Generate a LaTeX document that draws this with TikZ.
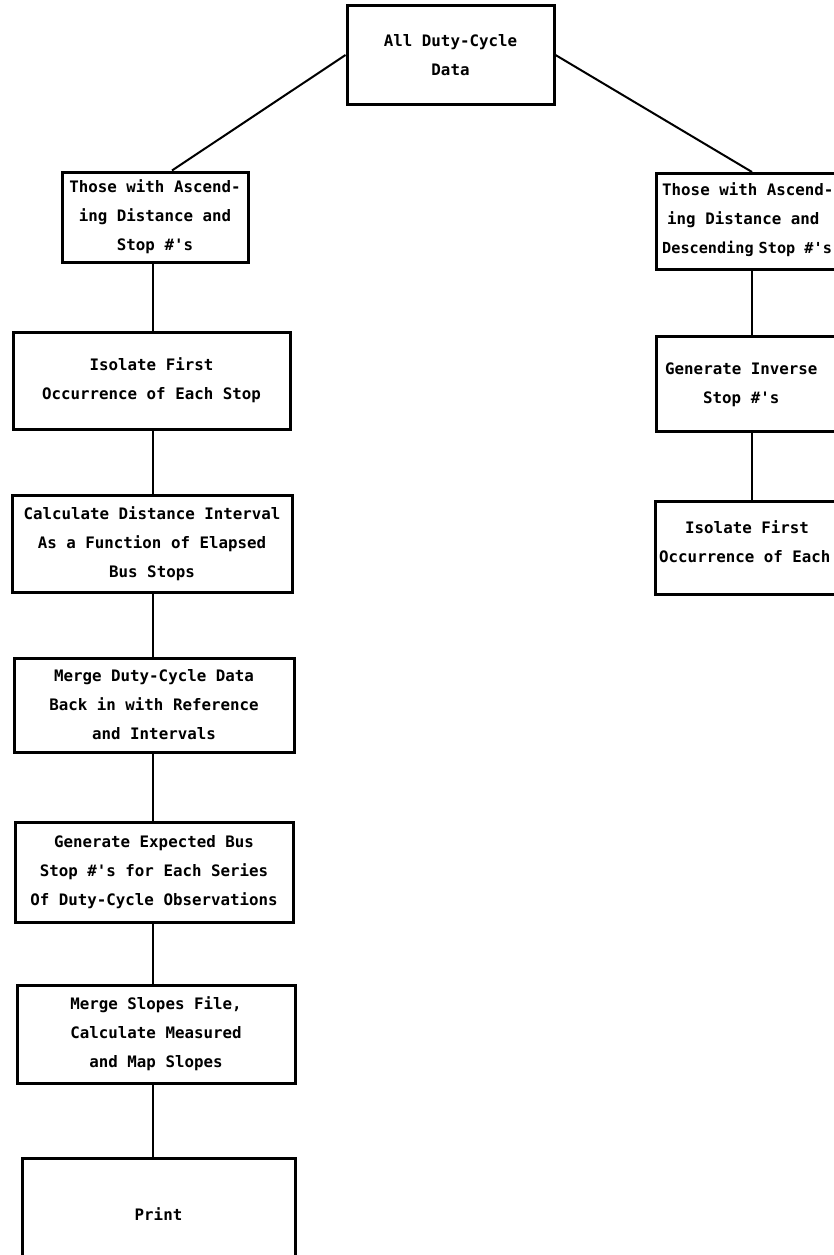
\documentclass[tikz,border=0pt]{standalone}
\usepackage{fontspec}
\newfontfamily\boxfont{DejaVu Sans Mono}
\begin{document}
\begin{tikzpicture}[x=1pt,y=-1pt,
  txt/.style={inner sep=0pt, font=\boxfont\bfseries\fontsize{15.8}{29}\selectfont},
  box/.style={draw, line width=3pt, inner sep=0pt, align=center, txt},
  frame/.style={draw, line width=3pt, inner sep=0pt, anchor=north west},
  link/.style={line width=2.6pt},
  diag/.style={line width=2pt}]
\useasboundingbox (0,0) rectangle (834,1255);
\clip (0,0) rectangle (834,1255);
\coordinate (colL) at (153,0);
\coordinate (colR) at (752,0);
% top
\node[box, minimum width=207pt, minimum height=98pt] (all) at (450.5,55) {All Duty-Cycle\\Data};
% left column
\node[box, minimum width=186pt, minimum height=90pt] (b1) at (155,217) {Those with Ascend-\\ing Distance and\\Stop \#'s};
\node[box, minimum width=277pt, minimum height=97pt] (b2) at (151.5,380.5) {Isolate First\\Occurrence of Each Stop};
\node[box, minimum width=280pt, minimum height=97pt] (b3) at (152,543.5) {Calculate Distance Interval\\As a Function of Elapsed\\Bus Stops};
\node[box, minimum width=280pt, minimum height=94pt] (b4) at (154,705) {Merge Duty-Cycle Data\\Back in with Reference\\and Intervals};
\node[box, minimum width=278pt, minimum height=100pt] (b5) at (154,872) {Generate Expected Bus\\Stop \#'s for Each Series\\Of Duty-Cycle Observations};
\node[box, minimum width=278pt, minimum height=98pt] (b6) at (156,1034) {Merge Slopes File,\\Calculate Measured\\and Map Slopes};
\node[box, minimum width=273pt, minimum height=112pt] (b7) at (158.5,1214) {Print};
% right column
\node[frame, minimum width=200pt, minimum height=96pt] (r1) at (655,172) {};
\node[txt, align=left, anchor=west] (r1t) at (662,220) {Those with Ascend-\\\hspace*{5pt}ing Distance and\\{\fontsize{15.2}{29}\selectfont Descending\hspace{5pt}Stop \#'s}};
\node[frame, minimum width=200pt, minimum height=95pt] (r2) at (655,335) {};
\node[txt, align=left, anchor=west] (r2t) at (665,385) {Generate Inverse\\\hspace*{38pt}Stop \#'s};
\node[frame, minimum width=240pt, minimum height=93pt] (r3) at (654,500) {};
\node[txt, align=left, anchor=west] (r3t) at (659,541.5) {\hspace*{26pt}Isolate First\\Occurrence of Each};
% connectors
\draw[diag] (all.west) -- ([xshift=17pt]b1.north);
\draw[diag] (all.east) -- (r1.north -| colR);
\foreach \u/\l in {b1/b2,b2/b3,b3/b4,b4/b5,b5/b6,b6/b7}
  \draw[link] (\u.south -| colL) -- (\l.north -| colL);
\draw[link] (r1.south -| colR) -- (r2.north -| colR);
\draw[link] (r2.south -| colR) -- (r3.north -| colR);
\end{tikzpicture}
\end{document}
